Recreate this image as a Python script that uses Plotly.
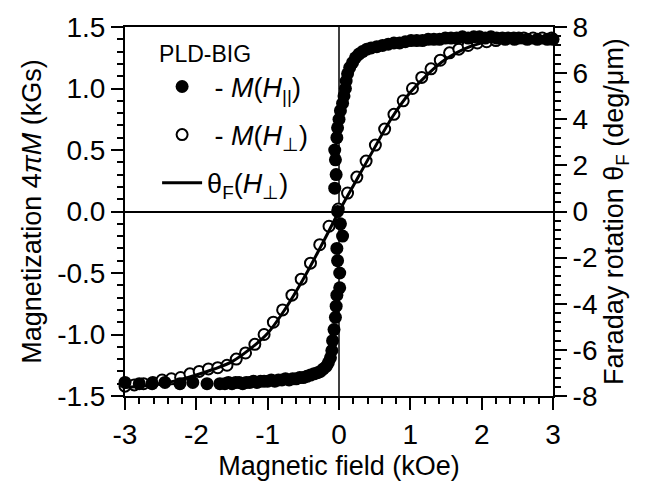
import plotly.graph_objects as go

# ---- data ----
# M(H||): filled circles (kOe, kGs)
par_x = [-3.00, -2.80, -2.62, -2.44, -2.23, -2.05, -1.85, -1.67,
         -1.60, -1.55, -1.50, -1.45, -1.40, -1.35, -1.30, -1.25, -1.20, -1.15, -1.10, -1.05,
         -1.00, -0.95, -0.90, -0.85, -0.80, -0.75, -0.70, -0.65, -0.60, -0.55, -0.50, -0.45,
         -0.40, -0.35, -0.30, -0.26, -0.22, -0.18, -0.15, -0.12, -0.10,
         -0.09, -0.07, -0.05, -0.04, -0.03, 0.01, 0.01, -0.02, -0.03, 0.05, 0.02, -0.02,
         -0.06, -0.04, -0.05, -0.06, -0.03, -0.02, 0.00, 0.02, 0.05, 0.07, 0.09, 0.10, 0.12,
         0.15, 0.19, 0.23, 0.28, 0.33, 0.39,
         0.45, 0.53, 0.61, 0.69, 0.77, 0.85, 0.93, 1.01, 1.09, 1.17, 1.25, 1.33, 1.41, 1.49,
         1.57, 1.65, 1.73, 1.81, 1.89, 1.97, 2.05, 2.13, 2.21, 2.29, 2.37, 2.45,
         2.52, 2.64, 2.78, 2.92, 3.00]
par_y = [-1.39, -1.40, -1.40, -1.39, -1.40, -1.39, -1.40, -1.40,
         -1.40, -1.39, -1.40, -1.39, -1.39, -1.40, -1.39, -1.39, -1.38, -1.39, -1.38, -1.38,
         -1.38, -1.37, -1.38, -1.37, -1.37, -1.36, -1.37, -1.36, -1.36, -1.35, -1.35, -1.34,
         -1.33, -1.32, -1.31, -1.30, -1.28, -1.26, -1.23, -1.19, -1.13,
         -1.05, -0.96, -0.86, -0.77, -0.68, -0.62, -0.50, -0.40, -0.30, -0.20, -0.10, 0.00,
         0.19, 0.30, 0.42, 0.50, 0.60, 0.68, 0.75, 0.82, 0.88, 0.94, 1.00, 1.06, 1.12,
         1.17, 1.21, 1.25, 1.28, 1.30, 1.32,
         1.33, 1.34, 1.35, 1.36, 1.37, 1.37, 1.38, 1.39, 1.39, 1.39, 1.40, 1.40, 1.40, 1.41,
         1.41, 1.41, 1.42, 1.41, 1.42, 1.42, 1.41, 1.42, 1.41, 1.41, 1.41, 1.41,
         1.41, 1.40, 1.40, 1.40, 1.40]

# M(H_perp): open circles
perp_x = [-3.00, -2.87, -2.74, -2.61, -2.48, -2.35, -2.22, -2.09, -1.96, -1.83, -1.70, -1.57,
          -1.44, -1.31, -1.18, -1.05, -0.92, -0.79, -0.66, -0.53, -0.40, -0.27, -0.14, -0.01,
          0.12, 0.25, 0.38, 0.51, 0.64, 0.77, 0.90, 1.03, 1.16, 1.29, 1.42, 1.55, 1.68, 1.81,
          1.94, 2.07, 2.20, 2.33, 2.46, 2.59, 2.72, 2.85, 2.98]
perp_y = [-1.42, -1.41, -1.40, -1.39, -1.37, -1.36, -1.35, -1.32, -1.30, -1.28, -1.27, -1.25,
          -1.20, -1.15, -1.08, -1.00, -0.90, -0.80, -0.68, -0.55, -0.42, -0.27, -0.12, 0.02,
          0.15, 0.28, 0.41, 0.54, 0.67, 0.79, 0.90, 1.00, 1.09, 1.16, 1.23, 1.29, 1.32, 1.35,
          1.37, 1.38, 1.39, 1.40, 1.40, 1.41, 1.41, 1.41, 1.41]

# Faraday rotation theta_F(H_perp), deg/um (right axis)
far_x = [-3.00, -2.75, -2.50, -2.25, -2.00, -1.75, -1.50, -1.25, -1.00, -0.75, -0.50, -0.25,
         0.00, 0.25, 0.50, 0.75, 1.00, 1.25, 1.50, 1.75, 2.00, 2.25, 2.50, 2.75, 3.00]
far_y = [-7.63, -7.57, -7.47, -7.31, -7.09, -6.83, -6.51, -5.97, -5.28, -4.21, -2.93, -1.49,
         0.00, 1.39, 2.77, 4.11, 5.17, 5.97, 6.61, 7.04, 7.31, 7.47, 7.52, 7.57, 7.57]

# tick labels (hyphen-minus as in the reference)
x_tickvals = [-3, -2, -1, 0, 1, 2, 3]
x_ticktext = ["-3", "-2", "-1", "0", "1", "2", "3"]
y_tickvals = [-1.5, -1.0, -0.5, 0.0, 0.5, 1.0, 1.5]
y_ticktext = ["-1.5", "-1.0", "-0.5", "0.0", "0.5", "1.0", "1.5"]
y2_tickvals = [-8, -6, -4, -2, 0, 2, 4, 6, 8]
y2_ticktext = ["-8", "-6", "-4", "-2", "0", "2", "4", "6", "8"]

FONT = "Liberation Sans, Arial, Helvetica, sans-serif"

fig = go.Figure()
fig.add_trace(go.Scatter(
    x=far_x, y=far_y, yaxis="y2", mode="lines", line=dict(color="black", width=3, shape="spline"),
    name="θ<sub>F</sub>(<i>H</i><sub>⊥</sub>)", legendrank=3, legendgroup="c", cliponaxis=False))
fig.add_trace(go.Scatter(
    x=perp_x, y=perp_y, mode="markers",
    marker=dict(symbol="circle", size=11, color="white", line=dict(color="black", width=2)),
    name=" - <i>M</i>(<i>H</i><sub>⊥</sub>)", legendrank=2, legendgroup="b", cliponaxis=False))
fig.add_trace(go.Scatter(
    x=par_x, y=par_y, mode="markers",
    marker=dict(symbol="circle", size=13, color="black", line=dict(width=0)),
    name=" - <i>M</i>(<i>H</i><sub>||</sub>)", legendrank=1, legendgroup="a", cliponaxis=False))

axis_common = dict(showline=True, linecolor="black", linewidth=2, ticks="outside",
                   tickcolor="black", tickwidth=2, showgrid=False, tickmode="array",
                   tickfont=dict(family=FONT, size=28, color="black"))

fig.update_layout(
    width=645, height=495,
    margin=dict(l=125, r=92, t=27, b=99),
    paper_bgcolor="white", plot_bgcolor="white",
    font=dict(family=FONT, color="black"),
    showlegend=True,
    legend=dict(x=0.075, y=0.985, xanchor="left", yanchor="top",
                bgcolor="rgba(0,0,0,0)", borderwidth=0,
                font=dict(family=FONT, size=27, color="black"),
                title=dict(text="PLD-BIG", font=dict(family=FONT, size=23, color="black")),
                tracegroupgap=10, itemwidth=40, traceorder="grouped"),
    xaxis=dict(range=[-3, 3], tickvals=x_tickvals, ticktext=x_ticktext, ticklen=12,
               mirror=True, zeroline=False,
               minor=dict(dtick=0.2, tick0=0, ticklen=6, ticks="outside", tickcolor="black", tickwidth=2),
               title=dict(text="Magnetic field (kOe)", font=dict(family=FONT, size=27), standoff=8),
               **axis_common),
    yaxis=dict(range=[-1.5, 1.5], tickvals=y_tickvals, ticktext=y_ticktext, ticklen=12,
               zeroline=True, zerolinecolor="black", zerolinewidth=1.5,
               minor=dict(dtick=0.1, tick0=0, ticklen=6, ticks="outside", tickcolor="black", tickwidth=2),
               title=dict(text="Magnetization 4<i>πM</i> (kGs)", font=dict(family=FONT, size=27), standoff=8),
               **axis_common),
    yaxis2=dict(range=[-8, 8], tickvals=y2_tickvals, ticktext=y2_ticktext, ticklen=12,
                overlaying="y", side="right", zeroline=False,
                minor=dict(dtick=0.4, tick0=0, ticklen=6, ticks="outside", tickcolor="black", tickwidth=2),
                title=dict(text="Faraday rotation θ<sub>F</sub> (deg/μm)", font=dict(family=FONT, size=27), standoff=8),
                **axis_common),
)

# vertical line at H = 0
fig.add_vline(x=0, line=dict(color="black", width=1.5), layer="below")

fig.write_html("out.html")
